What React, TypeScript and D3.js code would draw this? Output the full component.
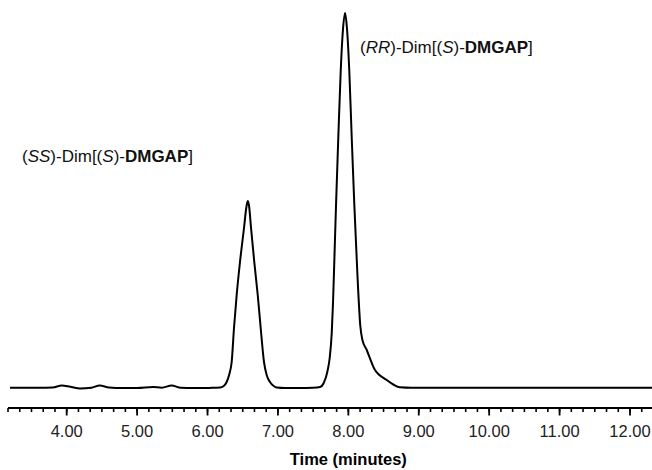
import React from "react";
import * as d3 from "d3";

// Chromatogram trace: time (min) and detector signal (arb. units)
const times = [
  3.195, 3.6, 3.8, 3.93, 4.05, 4.19, 4.35, 4.47, 4.6, 4.8, 5.0, 5.226, 5.35, 5.49, 5.62, 5.8, 6.0, 6.1,
  6.177, 6.23, 6.272, 6.31, 6.343, 6.376, 6.414, 6.461, 6.518, 6.55, 6.571, 6.59, 6.618, 6.664, 6.713,
  6.755, 6.802, 6.84, 6.887, 6.94, 6.983, 7.1, 7.3, 7.5,
  7.598, 7.65, 7.701, 7.735, 7.764, 7.782, 7.796, 7.825, 7.857, 7.891, 7.92, 7.953, 7.98, 8.014, 8.048, 8.085,
  8.127, 8.17, 8.2, 8.261, 8.37, 8.545, 8.65, 8.73, 8.9, 9.5, 10.5, 11.5, 12.4,
];
const signal = [
  0.3, 0.3, 0.5, 2.5, 1.2, -0.5, 0.3, 2.5, 0.5, 0, 0, 1.0, 0.3, 2.5, 0.2, 0, 0, 0.3,
  0.5, 2, 6, 14, 26, 60, 93, 126, 160, 180, 187, 182, 160, 126, 93,
  60, 26, 13, 6, 2, 0.5, 0, 0, 0.3,
  1, 5, 16, 30, 55, 85, 116, 183, 250, 316, 355, 375, 360, 316, 250, 183,
  116, 62, 48, 38, 19, 8, 3, 0.8, 0.3, 0.3, 0.3, 0.3, 0.3,
];

const majorTicks = [4, 5, 6, 7, 8, 9, 10, 11, 12];
const axisStart = 19 / 6; // first tick at 3 min 10 s
const tickStep = 1 / 6; // 10-second minor ticks
const xTitle = "Time (minutes)";

const W = 652;
const H = 470;

export default function App() {
  const x = d3.scaleLinear().domain([4, 12]).range([66.7, 630]);
  const y = d3.scaleLinear().domain([0, 375]).range([388, 13]);
  const pts: [number, number][] = times.map((t, i) => [t, signal[i]]);
  const line = d3
    .line<[number, number]>()
    .x((d) => x(d[0]))
    .y((d) => y(d[1]))
    .curve(d3.curveMonotoneX);

  const axisY = 408;
  const minor = d3.range(0, 60).map((i) => axisStart + i * tickStep).filter((t) => x(t) <= W + 1);
  const fmt = d3.format(".2f");
  const font = "'Liberation Sans', Arial, Helvetica, sans-serif";

  return (
    <div style={{ position: "absolute", left: 0, top: 0 }}>
      <svg width={W} height={H} style={{ display: "block", background: "#fff" }}>
        <path d={line(pts) || ""} fill="none" stroke="#000" strokeWidth={2} strokeLinejoin="round" />
        <line x1={x(axisStart)} x2={W} y1={axisY} y2={axisY} stroke="#000" strokeWidth={2} />
        {minor.map((t, i) => (
          <line key={"m" + i} x1={x(t)} x2={x(t)} y1={axisY} y2={axisY + 4} stroke="#000" strokeWidth={1.6} />
        ))}
        {majorTicks.map((t) => (
          <g key={t}>
            <line x1={x(t)} x2={x(t)} y1={axisY} y2={axisY + 7.5} stroke="#000" strokeWidth={1.8} />
            <text x={x(t)} y={437} textAnchor="middle" fontFamily={font} fontSize={16.5} fill="#222">
              {fmt(t)}
            </text>
          </g>
        ))}
        <text x={x(8)} y={465} textAnchor="middle" fontFamily={font} fontSize={16.5} fontWeight="bold" fill="#000">
          {xTitle}
        </text>
        <text x={22} y={162} fontFamily={font} fontSize={17} fill="#111">
          (<tspan fontStyle="italic">SS</tspan>)-Dim[(<tspan fontStyle="italic">S</tspan>)-
          <tspan fontWeight="bold">DMGAP</tspan>]
        </text>
        <text x={360} y={53} fontFamily={font} fontSize={17} fill="#111">
          (<tspan fontStyle="italic">RR</tspan>)-Dim[(<tspan fontStyle="italic">S</tspan>)-
          <tspan fontWeight="bold">DMGAP</tspan>]
        </text>
      </svg>
    </div>
  );
}
